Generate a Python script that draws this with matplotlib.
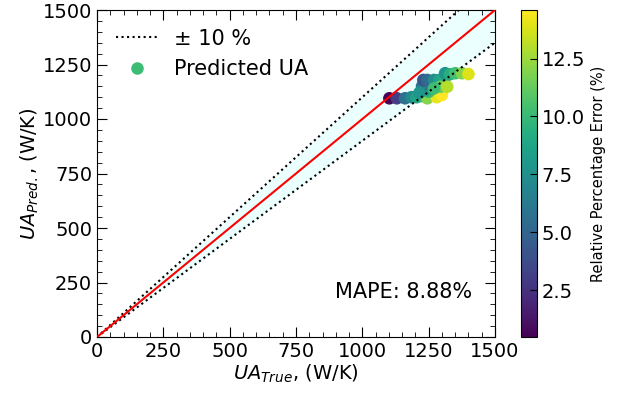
import numpy as np
import matplotlib
matplotlib.use('Agg')
import matplotlib.pyplot as plt
from matplotlib.lines import Line2D

# true vs predicted UA (W/K)
ua_true = [1102, 1130, 1161, 1185, 1205, 1225, 1245, 1280, 1250, 1240, 1245, 1225,
           1230, 1245, 1270, 1290, 1310, 1312, 1330, 1350, 1375, 1400, 1300, 1295,
           1320, 1270, 1215]
ua_pred = [1095, 1095, 1095, 1100, 1100, 1105, 1095, 1100, 1125, 1133, 1156, 1150,
           1179, 1179, 1179, 1179, 1190, 1210, 1205, 1210, 1210, 1206, 1110, 1148,
           1148, 1140, 1120]
mape_text = "MAPE: 8.88%"

xt = np.array(ua_true)
yp = np.array(ua_pred)
err = np.abs(yp - xt) / xt * 100

fig = plt.figure(figsize=(6.25, 3.96), dpi=100)
ax = fig.add_axes([97/625, 59/396, 398/625, 327/396])
cax = fig.add_axes([521/625, 59/396, 16/625, 327/396])

line = np.linspace(0, 1500, 100)
ax.fill_between(line, 0.9*line, 1.1*line, color='lightcyan', alpha=0.6, lw=0, zorder=1)
sc = ax.scatter(xt, yp, c=err, cmap='viridis', s=65, vmin=0.47, vmax=14.6, zorder=2)
ax.plot(line, 1.1*line, ':', color='black', lw=1.5, zorder=3)
ax.plot(line, 0.9*line, ':', color='black', lw=1.5, zorder=3)
ax.plot(line, line, '-', color='red', lw=1.5, zorder=3)

ax.text(0.942, 0.138, mape_text, transform=ax.transAxes, ha='right', va='center', fontsize=15)

ax.set_xlim(0, 1500)
ax.set_ylim(0, 1500)
ticks = [0, 250, 500, 750, 1000, 1250, 1500]
ax.set_xticks(ticks)
ax.set_yticks(ticks)
ax.set_xticks(np.arange(0, 1501, 50), minor=True)
ax.set_yticks(np.arange(0, 1501, 50), minor=True)
ax.tick_params(which='both', direction='in', top=True, right=True, labelsize=14)
ax.tick_params(which='major', length=7)
ax.tick_params(which='minor', length=3.5)
ax.set_xlabel(r'$UA_{True}$, (W/K)', fontsize=14, labelpad=1)
ax.set_ylabel(r'$UA_{Pred.}$, (W/K)', fontsize=14, labelpad=1)

handles = [Line2D([], [], ls=':', color='black', lw=1.5),
           Line2D([], [], ls='', marker='o', color='#3dbc74', markersize=8)]
ax.legend(handles, ['± 10 %', 'Predicted UA'], loc='upper left', frameon=False,
          fontsize=15)

cb = fig.colorbar(sc, cax=cax)
cb.set_ticks([2.5, 5.0, 7.5, 10.0, 12.5])
cb.ax.tick_params(direction='in', labelsize=14, length=5)
cb.set_label('Relative Percentage Error (%)', fontsize=10.5)

fig.savefig('out.png', dpi=100)
